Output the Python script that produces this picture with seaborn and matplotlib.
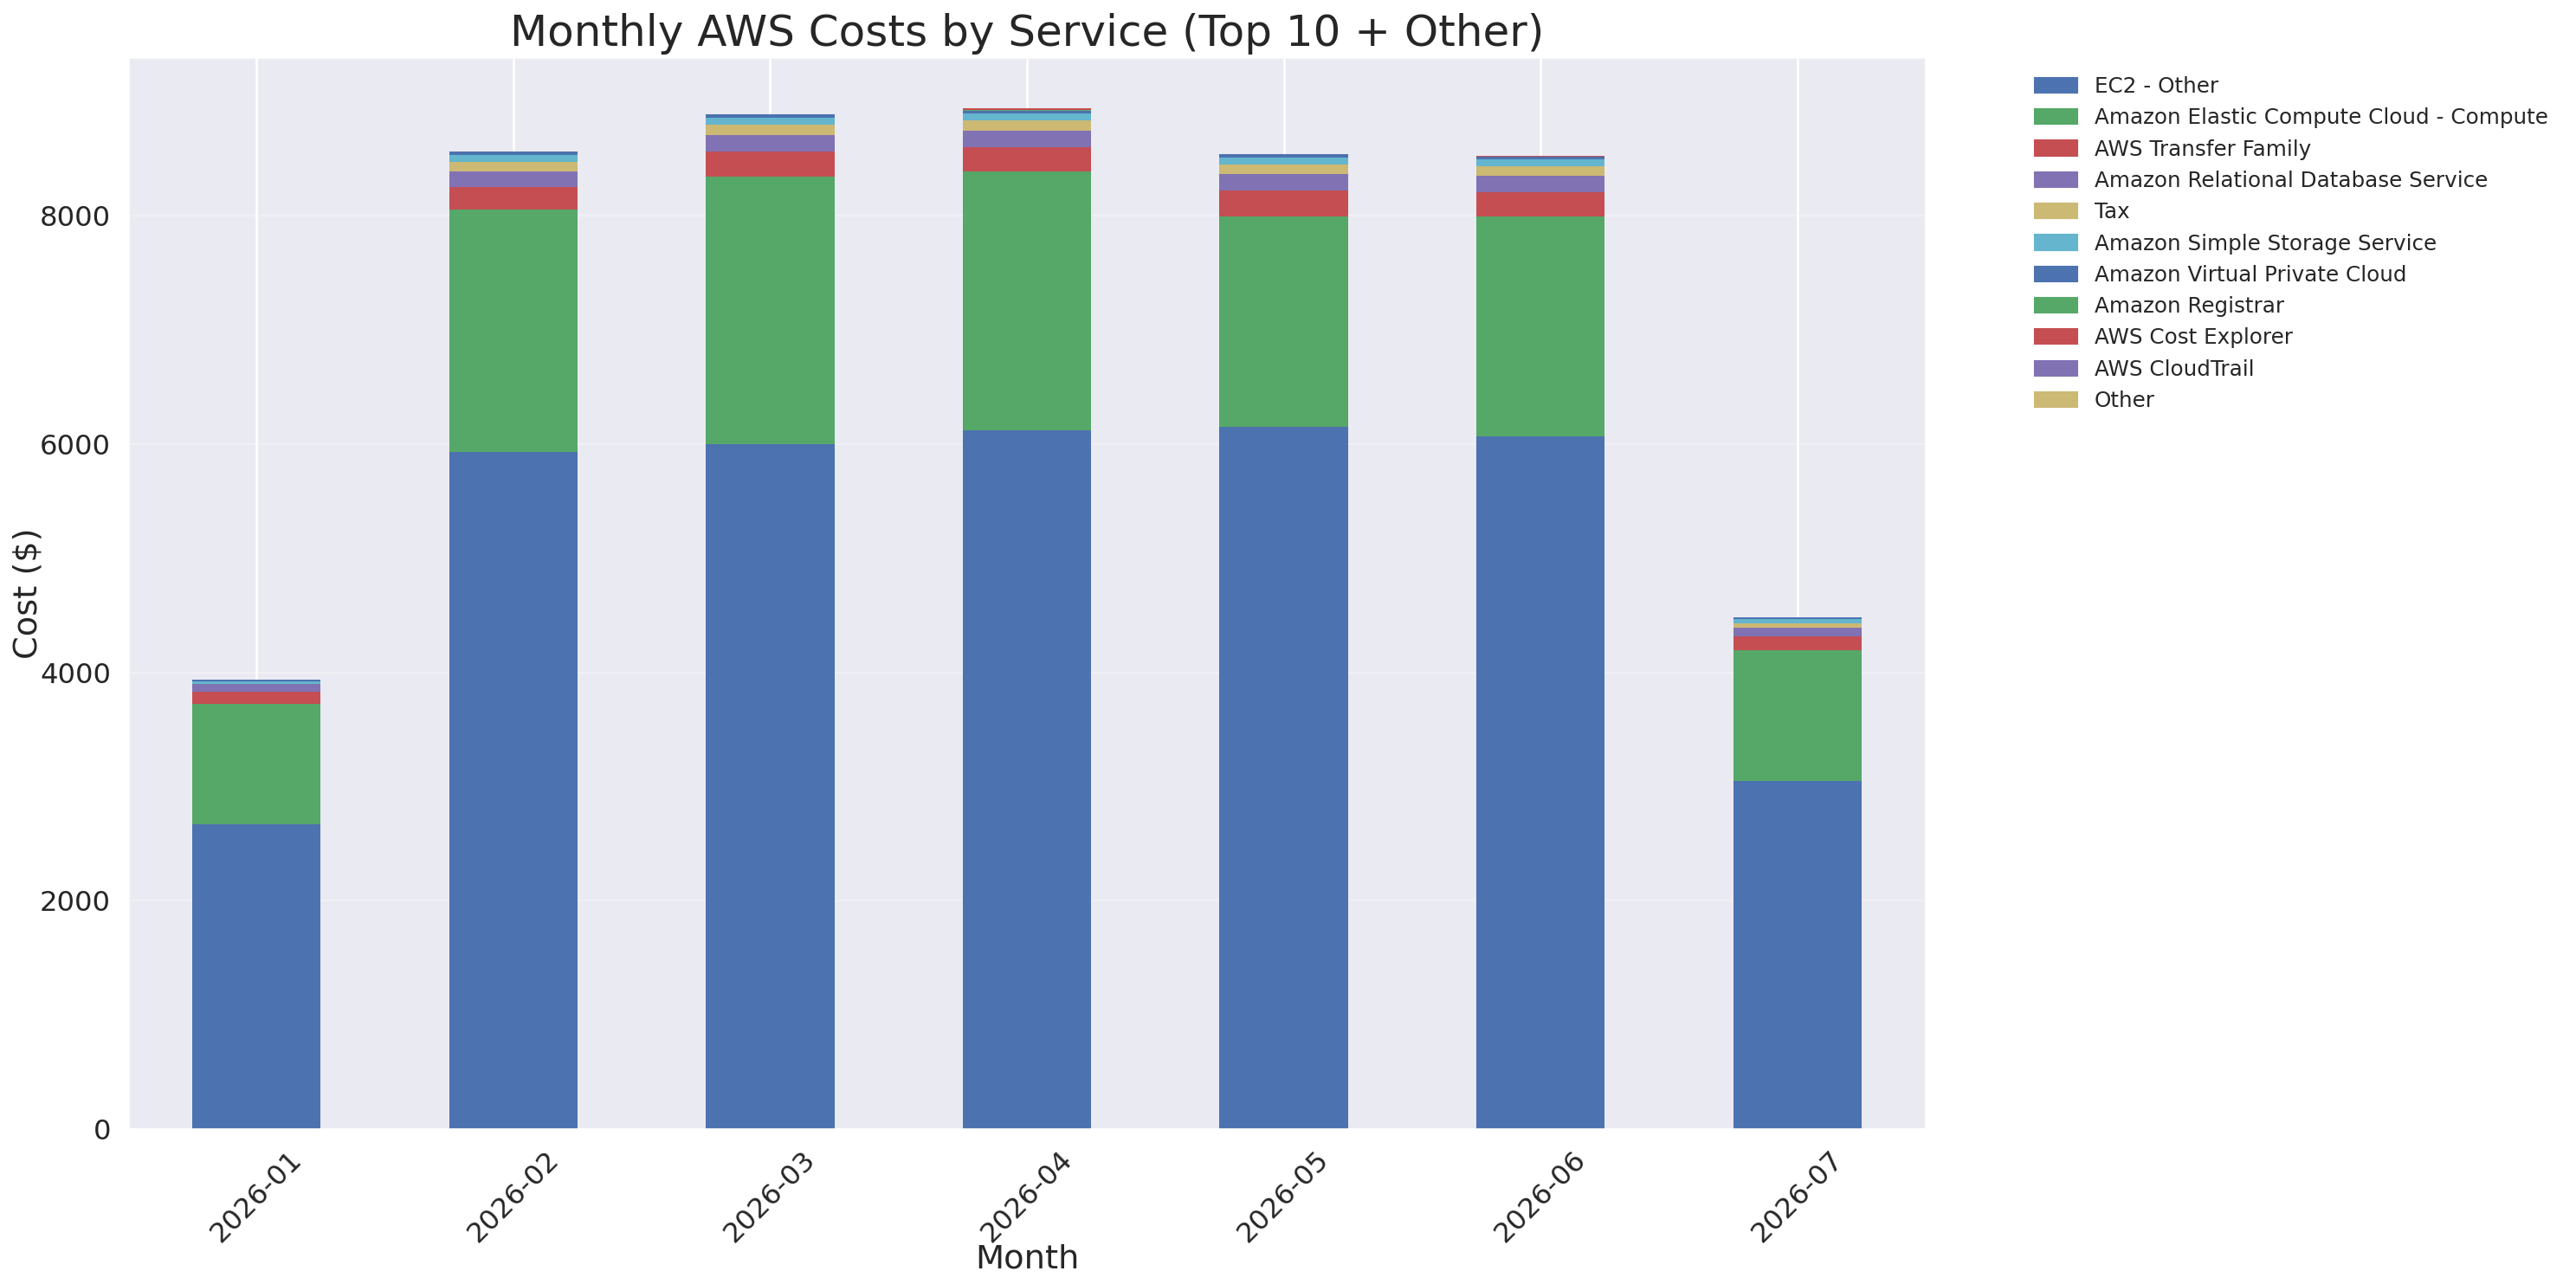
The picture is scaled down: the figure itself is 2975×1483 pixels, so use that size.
import numpy as np
import pandas as pd
import seaborn as sns
import matplotlib.pyplot as plt

# months on the x axis
months = ["2026-01", "2026-02", "2026-03", "2026-04", "2026-05", "2026-06", "2026-07"]

# monthly cost per service ($)
ec2_other = [2667, 5930, 6001, 6122, 6152, 6069, 3046]
ec2_compute = [1058, 2122, 2339, 2263, 1839, 1922, 1148]
transfer_family = [106, 197, 220, 212, 228, 212, 121]
rds = [68, 136, 143, 144, 144, 144, 76]
tax = [0, 84, 91, 91, 83, 84, 38]
s3 = [23, 60, 61, 61, 61, 60, 38]
vpc = [15, 31, 30, 23, 30, 23, 15]
registrar = [0, 0, 0, 13, 0, 0, 0]
cost_explorer = [0, 0, 0, 8, 0, 8, 0]
cloudtrail = [1, 2, 2, 2, 2, 2, 1]
other = [1, 2, 2, 2, 2, 2, 1]

services = ["EC2 - Other", "Amazon Elastic Compute Cloud - Compute", "AWS Transfer Family",
            "Amazon Relational Database Service", "Tax", "Amazon Simple Storage Service",
            "Amazon Virtual Private Cloud", "Amazon Registrar", "AWS Cost Explorer",
            "AWS CloudTrail", "Other"]

df = pd.DataFrame([ec2_other, ec2_compute, transfer_family, rds, tax, s3, vpc,
                   registrar, cost_explorer, cloudtrail, other],
                  index=services, columns=months).T

sns.set_theme(style="darkgrid")
colors = sns.color_palette("deep6")
colors = [colors[i % 6] for i in range(len(services))]

fig = plt.figure(figsize=(2975 / 150, 1483 / 150), dpi=150)
ax = fig.add_axes([0.0497, 0.1207, 0.6979, 0.8348])

# stacked bars: draw cumulative totals from the top layer down
cum = df.cumsum(axis=1)
handles = []
for i in range(len(services) - 1, -1, -1):
    sns.barplot(x=months, y=cum[services[i]].values, color=colors[i], saturation=1,
                width=0.5, errorbar=None, linewidth=0, ax=ax)
for i in range(len(services)):
    handles.append(plt.Rectangle((0, 0), 1, 1, color=colors[i]))

ax.xaxis.grid(True, color="white", linewidth=1.3)
ax.yaxis.grid(True, alpha=0.3)
ax.set_axisbelow(True)

ax.set_title("Monthly AWS Costs by Service (Top 10 + Other)", fontsize=24)
ax.set_xlabel("Month", fontsize=18.4, labelpad=-2)
ax.set_ylabel("Cost ($)", fontsize=18.4, labelpad=-2)
ax.tick_params(axis="both", labelsize=15.5)
plt.setp(ax.get_xticklabels(), rotation=45)

ax.legend(handles, services, bbox_to_anchor=(1.05, 1), loc="upper left", fontsize=11.8,
          frameon=False)

fig.savefig("out.png", dpi=150)
